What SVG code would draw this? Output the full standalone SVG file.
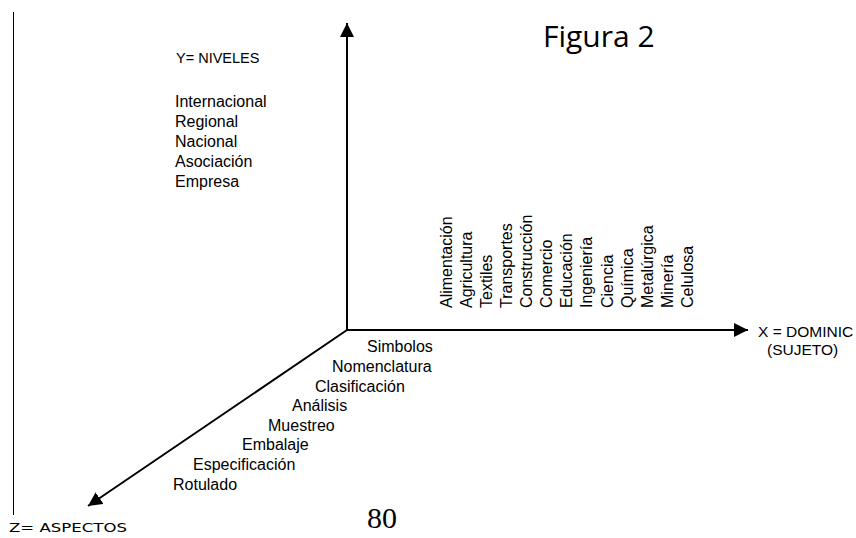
<svg xmlns="http://www.w3.org/2000/svg" width="856" height="538" viewBox="0 0 856 538">
<style>
.t{font-family:"Liberation Sans",Arial,sans-serif;font-size:16px;fill:#000}
.ax{stroke:#000;stroke-width:2;fill:none}
</style>
<defs>
<marker id="ah" markerUnits="userSpaceOnUse" markerWidth="14" markerHeight="14" viewBox="0 0 12 12" refX="12" refY="6" orient="auto">
<path d="M0,0 L12,6 L0,12 Z" fill="#000"/>
</marker>
</defs>
<rect width="856" height="538" fill="#fff"/>
<line x1="13.5" y1="12" x2="13.5" y2="515" stroke="#000" stroke-width="1"/>
<g id="connectors">
<line class="ax" x1="347" y1="330" x2="347" y2="23" marker-end="url(#ah)"/>
<line class="ax" x1="346" y1="330" x2="748" y2="330" marker-end="url(#ah)"/>
<line class="ax" x1="347" y1="330" x2="88" y2="506" marker-end="url(#ah)"/>
</g>
<g id="title"><text x="543" y="47" style="font-family:'Open Sans',sans-serif;font-size:30px">Figura 2</text></g>
<g id="y-axis">
<text class="t" x="176" y="63" style="font-size:14.5px">Y= NIVELES</text>
<text class="t" x="175" y="107">Internacional</text>
<text class="t" x="175" y="127">Regional</text>
<text class="t" x="175" y="147">Nacional</text>
<text class="t" x="175" y="167">Asociación</text>
<text class="t" x="175" y="187">Empresa</text>
</g>
<g id="x-axis">
<text class="t" transform="translate(452,308) rotate(-90)">Alimentación</text>
<text class="t" transform="translate(472,308) rotate(-90)">Agricultura</text>
<text class="t" transform="translate(492,308) rotate(-90)">Textiles</text>
<text class="t" transform="translate(512,308) rotate(-90)">Transportes</text>
<text class="t" transform="translate(532,308) rotate(-90)">Construcción</text>
<text class="t" transform="translate(552,308) rotate(-90)">Comercio</text>
<text class="t" transform="translate(572,308) rotate(-90)">Educación</text>
<text class="t" transform="translate(592,308) rotate(-90)">Ingeniería</text>
<text class="t" transform="translate(613,308) rotate(-90)">Ciencia</text>
<text class="t" transform="translate(633,308) rotate(-90)">Química</text>
<text class="t" transform="translate(653,308) rotate(-90)">Metalúrgica</text>
<text class="t" transform="translate(673,308) rotate(-90)">Minería</text>
<text class="t" transform="translate(693,308) rotate(-90)">Celulosa</text>
<text class="t" x="758" y="337" style="font-size:15.5px">X = DOMINIC</text>
<text class="t" x="767" y="355" style="font-size:15.5px">(SUJETO)</text>
</g>
<g id="z-axis">
<text class="t" x="367" y="352">Simbolos</text>
<text class="t" x="332" y="372">Nomenclatura</text>
<text class="t" x="315" y="392">Clasificación</text>
<text class="t" x="292" y="411">Análisis</text>
<text class="t" x="268" y="431">Muestreo</text>
<text class="t" x="242" y="450">Embalaje</text>
<text class="t" x="193" y="470">Especificación</text>
<text class="t" x="173" y="490">Rotulado</text>
<text x="9" y="532" textLength="118" lengthAdjust="spacingAndGlyphs" style="font-family:'DejaVu Sans',sans-serif;font-size:13px">Z= ASPECTOS</text>
</g>
<g id="page"><text x="367" y="528" style="font-family:'Liberation Serif','Times New Roman',serif;font-size:30px">80</text></g>
</svg>
